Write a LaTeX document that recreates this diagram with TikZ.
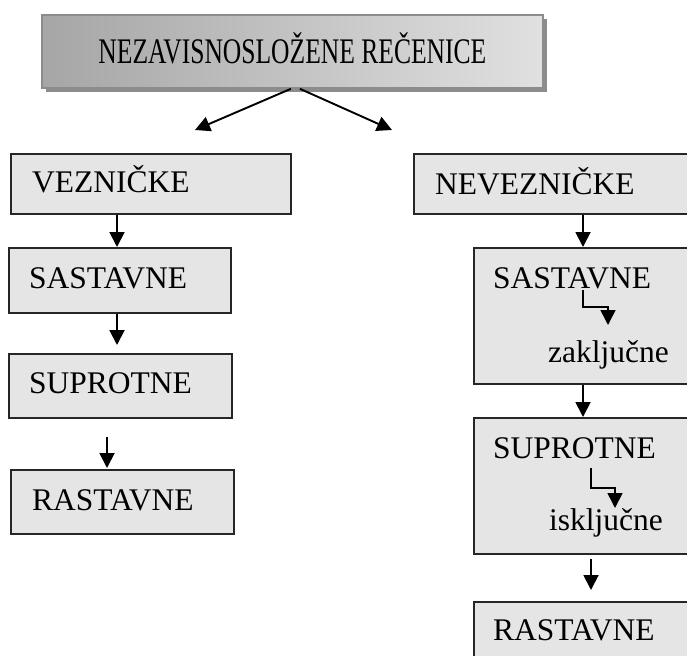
\documentclass[tikz,border=0pt]{standalone}
\usepackage{fontspec}
\setmainfont{Liberation Serif}
\usetikzlibrary{arrows.meta}
\begin{document}
\begin{tikzpicture}[x=1pt,y=-1pt,
  box/.style={draw=black!85,line width=1.6pt,fill=black!10,anchor=north west,inner sep=0pt},
  lbl/.style={anchor=base west,inner sep=0pt,font=\fontsize{31.5}{38}\selectfont},
  arr/.style={line width=1.9pt,-{Triangle[length=15pt,width=15pt]}}]
\useasboundingbox (0,0) rectangle (687,655);
% title with shadow
\fill[black!45] (46,19) rectangle (547,92);
\node[draw=black!45,line width=1.8pt,left color=black!35,right color=black!12,anchor=north west,
      minimum width=501pt,minimum height=73pt,inner sep=0pt,text height=24pt,text depth=0pt]
      (title) at (41,14) {\fontsize{36}{40}\selectfont\scalebox{0.71}[1]{NEZAVISNOSLOŽENE REČENICE}\hspace{13pt}};
% left column
\node[box,minimum width=280pt,minimum height=60pt] (vez) at (10,153) {};
\node[lbl] (vezt) at (32,193) {VEZNIČKE};
\node[box,minimum width=222pt,minimum height=65pt] (sasL) at (8,247) {};
\node[lbl] (sasLt) at (29,288) {SASTAVNE};
\node[box,minimum width=223pt,minimum height=64pt] (supL) at (8,353) {};
\node[lbl] (supLt) at (29,393) {SUPROTNE};
\node[box,minimum width=223pt,minimum height=64pt] (rasL) at (10,469) {};
\node[lbl] (rasLt) at (32,510) {RASTAVNE};
% right column
\node[box,minimum width=290pt,minimum height=60pt] (nev) at (413,153) {};
\node[lbl] (nevt) at (435,194) {NEVEZNIČKE};
\node[box,minimum width=230pt,minimum height=136pt] (sasR) at (473,247) {};
\node[lbl] (sasRt) at (493,288) {SASTAVNE};
\node[lbl] (zak) at (548,362) {zaključne};
\node[box,minimum width=230pt,minimum height=136pt] (supR) at (473,417) {};
\node[lbl] (supRt) at (493,458) {SUPROTNE};
\node[lbl] (isk) at (549,530) {isključne};
\node[box,minimum width=230pt,minimum height=80pt] (rasR) at (473,601) {};
\node[lbl] (rasRt) at (493,640) {RASTAVNE};
% arrows from title
\draw[arr] ([xshift=-1.5pt]title.south) -- ([xshift=185pt,yshift=23pt]vez.north west);
\draw[arr] ([xshift=7.5pt]title.south) -- ([xshift=-21pt,yshift=23pt]nev.north west);
% left arrows
\draw[arr] ([xshift=107pt]vez.south west) -- ([xshift=109pt]sasL.north west);
\draw[arr] ([xshift=109pt]sasL.south west) -- ([xshift=109pt,yshift=8pt]supL.north west);
\draw[arr] ([xshift=99pt,yshift=-18pt]supL.south west) -- ([xshift=97pt,yshift=1pt]rasL.north west);
% right arrows
\draw[arr] ([xshift=170pt]nev.south west) -- ([xshift=110pt]sasR.north west);
\draw[arr] ([xshift=110pt]sasR.south west) -- ([xshift=110pt]supR.north west);
\draw[arr] ([xshift=118pt,yshift=-4pt]supR.south west) -- ([xshift=118pt,yshift=11pt]rasR.north west);
% bent arrows
\draw[arr,line width=1.6pt] ([xshift=90pt,yshift=-2pt]sasRt.base west) -- ++(0,17) -- ++(25,0)
      -- ([xshift=60pt,yshift=37pt]zak.base west);
\draw[arr,line width=1.6pt] ([xshift=98pt,yshift=-10pt]supRt.base west) -- ++(0,20) -- ++(24,0)
      -- ([xshift=66pt,yshift=22pt]isk.base west);
\end{tikzpicture}
\end{document}
